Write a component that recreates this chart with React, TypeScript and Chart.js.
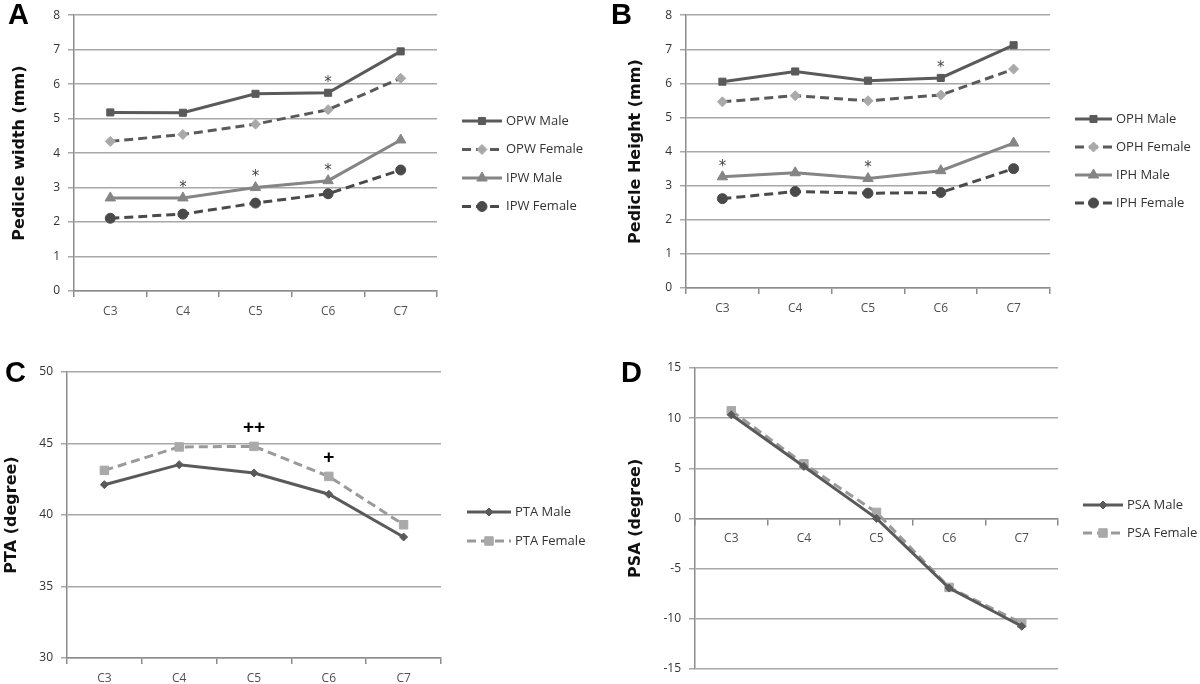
import React, { useEffect, useRef } from "react";
import { Chart, registerables } from "chart.js";
import { drawPoint } from "chart.js/helpers";

Chart.register(...registerables);

// ---------- data ----------
const categories = ["C3", "C4", "C5", "C6", "C7"];

// Panel A – pedicle width (mm)
const opwMale = [5.18, 5.17, 5.72, 5.75, 6.95];
const opwFemale = [4.34, 4.54, 4.84, 5.26, 6.17];
const ipwMale = [2.7, 2.7, 3.0, 3.2, 4.38];
const ipwFemale = [2.11, 2.23, 2.55, 2.82, 3.51];

// Panel B – pedicle height (mm)
const ophMale = [6.05, 6.35, 6.08, 6.16, 7.12];
const ophFemale = [5.46, 5.64, 5.49, 5.66, 6.42];
const iphMale = [3.26, 3.38, 3.21, 3.44, 4.25];
const iphFemale = [2.62, 2.83, 2.78, 2.8, 3.5];

// Panel C – PTA (degree)
const ptaMale = [42.12, 43.52, 42.94, 41.45, 38.46];
const ptaFemale = [43.12, 44.76, 44.8, 42.7, 39.32];

// Panel D – PSA (degree)
const psaMale = [10.33, 5.18, 0.0, -6.94, -10.76];
const psaFemale = [10.73, 5.45, 0.6, -6.88, -10.43];

// significance marks: [series index, category index, text]
const marksA: [number, number, string][] = [
  [0, 3, "*"],
  [2, 1, "*"],
  [2, 2, "*"],
  [2, 3, "*"],
];
const marksB: [number, number, string][] = [
  [0, 3, "*"],
  [2, 0, "*"],
  [2, 2, "*"],
];
const marksC: [number, number, string][] = [
  [1, 2, "++"],
  [1, 3, "+"],
];

// ---------- styles ----------
const GRID = "#a8a8a8";
const AXIS = "#8c8c8c";
const DARK = "#5a5a5a";
const DARKER = "#4a4a4a";
const MID = "#858585";
const LIGHT = "#a9a9a9";
const TICK_FONT = { family: "'Open Sans', 'DejaVu Sans', sans-serif", size: 12 };

function ds(label: string, data: number[], line: string, point: string, style: string, radius: number, dashed: boolean) {
  return {
    label,
    data,
    borderColor: line,
    backgroundColor: point,
    borderWidth: 3,
    borderDash: dashed ? [9, 5] : [],
    pointStyle: style,
    pointRadius: radius,
    pointBackgroundColor: point,
    pointBorderColor: point,
    pointBorderWidth: 1,
    tension: 0,
    fill: false,
  };
}

const legendPlugin = {
  id: "panelLegend",
  afterDraw(chart: any, _args: any, opts: any) {
    const ctx = chart.ctx as CanvasRenderingContext2D;
    chart.data.datasets.forEach((d: any, i: number) => {
      const y = opts.y + i * opts.gap;
      ctx.save();
      ctx.strokeStyle = d.borderColor;
      ctx.lineWidth = d.borderWidth;
      ctx.setLineDash(d.borderDash || []);
      ctx.beginPath();
      ctx.moveTo(opts.x, y);
      ctx.lineTo(opts.x + opts.len, y);
      ctx.stroke();
      ctx.setLineDash([]);
      ctx.fillStyle = d.pointBackgroundColor;
      ctx.strokeStyle = d.pointBorderColor;
      ctx.lineWidth = 1;
      drawPoint(ctx, { pointStyle: d.pointStyle, radius: d.pointRadius, rotation: 0, borderWidth: 1 } as any, opts.x + opts.len / 2, y);
      ctx.fillStyle = "#333";
      ctx.font = "13px 'Open Sans', sans-serif";
      ctx.textBaseline = "middle";
      ctx.textAlign = "left";
      ctx.fillText(d.label, opts.x + opts.len + 4, y);
      ctx.restore();
    });
  },
};

const marksPlugin = {
  id: "panelMarks",
  afterDatasetsDraw(chart: any, _args: any, opts: any) {
    const list = opts.marks || [];
    const ctx = chart.ctx as CanvasRenderingContext2D;
    ctx.save();
    ctx.textAlign = "center";
    ctx.textBaseline = "middle";
    list.forEach(([s, idx, text]: [number, number, string]) => {
      const pt = chart.getDatasetMeta(s).data[idx];
      const plus = text.includes("+");
      ctx.font = plus ? "bold 19px 'Liberation Sans', sans-serif" : "15px 'DejaVu Sans', sans-serif";
      ctx.fillStyle = plus ? "#000" : "#444";
      ctx.fillText(text, pt.x, pt.y - (plus ? opts.plusGap : opts.starGap));
    });
    ctx.restore();
  },
};

type Spec = {
  w: number;
  h: number;
  area: { left: number; top: number; right: number; bottom: number };
  datasets: any[];
  min: number;
  max: number;
  step: number;
  title: string;
  titlePad: number;
  xAtZero?: boolean;
  legend: { x: number; y: number; gap: number; len: number };
  marks: [number, number, string][];
};

function buildChart(canvas: HTMLCanvasElement, p: Spec) {
  const xH = 30;
  return new Chart(canvas, {
    type: "line",
    data: { labels: categories, datasets: p.datasets },
    options: {
      responsive: false,
      animation: false,
      devicePixelRatio: 1,
      layout: {
        padding: {
          left: 0,
          top: p.area.top,
          right: p.w - p.area.right,
          bottom: p.xAtZero ? p.h - p.area.bottom : p.h - p.area.bottom - xH,
        },
      },
      plugins: {
        legend: { display: false },
        tooltip: { enabled: false },
        panelLegend: p.legend,
        panelMarks: { marks: p.marks, starGap: 10, plusGap: 19 },
      } as any,
      scales: {
        x: {
          type: "category",
          offset: true,
          position: p.xAtZero ? ({ y: 0 } as any) : "bottom",
          grid: { offset: true, drawOnChartArea: false, drawTicks: true, tickLength: 6, color: AXIS, lineWidth: 1.5 },
          border: { color: AXIS, width: 1.5 },
          ticks: { color: "#505050", font: TICK_FONT, padding: 7, maxRotation: 0, autoSkip: false },
          afterFit: p.xAtZero
            ? undefined
            : (s: any) => {
                s.height = xH;
              },
        },
        y: {
          type: "linear",
          min: p.min,
          max: p.max,
          ticks: { stepSize: p.step, color: "#333", font: TICK_FONT, padding: 8 },
          grid: { color: GRID, lineWidth: 1.5, tickLength: 6, drawTicks: true },
          border: { color: AXIS, width: 1.5 },
          title: {
            display: true,
            text: p.title,
            color: "#111",
            font: { family: "'DejaVu Sans', sans-serif", size: 16, weight: "bold" },
            padding: { top: p.titlePad, bottom: 0 },
          },
          afterFit: (s: any) => {
            s.width = p.area.left;
          },
        },
      } as any,
    },
    plugins: [legendPlugin, marksPlugin],
  } as any);
}

const specs: (Spec & { x: number; y: number; letter: string; lx: number; ly: number })[] = [
  {
    x: 0, y: 0, w: 600, h: 330, letter: "A", lx: 8, ly: 0,
    area: { left: 74, top: 14, right: 437, bottom: 291 },
    datasets: [
      ds("OPW Male", opwMale, DARK, DARK, "rect", 5, false),
      ds("OPW Female", opwFemale, DARK, LIGHT, "rectRot", 5, true),
      ds("IPW Male", ipwMale, MID, MID, "triangle", 6, false),
      ds("IPW Female", ipwFemale, DARKER, DARKER, "circle", 5, true),
    ],
    min: 0, max: 8, step: 1, title: "Pedicle width (mm)", titlePad: 10,
    legend: { x: 462, y: 121, gap: 28.5, len: 40 },
    marks: marksA,
  },
  {
    x: 600, y: 0, w: 600, h: 330, letter: "B", lx: 611, ly: 0,
    area: { left: 86, top: 14, right: 450, bottom: 288 },
    datasets: [
      ds("OPH Male", ophMale, DARK, DARK, "rect", 5, false),
      ds("OPH Female", ophFemale, DARK, LIGHT, "rectRot", 5, true),
      ds("IPH Male", iphMale, MID, MID, "triangle", 6, false),
      ds("IPH Female", iphFemale, DARKER, DARKER, "circle", 5, true),
    ],
    min: 0, max: 8, step: 1, title: "Pedicle Height (mm)", titlePad: 26,
    legend: { x: 475, y: 119, gap: 28, len: 37 },
    marks: marksB,
  },
  {
    x: 0, y: 330, w: 600, h: 354, letter: "C", lx: 5, ly: 358,
    area: { left: 67, top: 42, right: 441, bottom: 328 },
    datasets: [
      ds("PTA Male", ptaMale, DARK, DARK, "rectRot", 4, false),
      ds("PTA Female", ptaFemale, "#9a9a9a", LIGHT, "rect", 6, true),
    ],
    min: 30, max: 50, step: 5, title: "PTA (degree)", titlePad: 2,
    legend: { x: 467, y: 182, gap: 29, len: 44 },
    marks: marksC,
  },
  {
    x: 600, y: 330, w: 600, h: 354, letter: "D", lx: 621, ly: 358,
    area: { left: 95, top: 38, right: 458, bottom: 339 },
    datasets: [
      ds("PSA Male", psaMale, DARK, DARK, "rectRot", 4, false),
      ds("PSA Female", psaFemale, "#9a9a9a", LIGHT, "rect", 6, true),
    ],
    min: -15, max: 15, step: 5, title: "PSA (degree)", titlePad: 26, xAtZero: true,
    legend: { x: 483, y: 175, gap: 28, len: 40 },
    marks: [],
  },
];

function Panel({ spec }: { spec: (typeof specs)[number] }) {
  const ref = useRef<HTMLCanvasElement | null>(null);
  useEffect(() => {
    if (!ref.current) return;
    const chart = buildChart(ref.current, spec);
    return () => chart.destroy();
  }, [spec]);
  return (
    <canvas
      ref={ref}
      width={spec.w}
      height={spec.h}
      style={{ position: "absolute", left: spec.x, top: spec.y, width: spec.w, height: spec.h }}
    />
  );
}

export default function App() {
  return (
    <div
      style={{
        position: "absolute",
        left: 0,
        top: 0,
        width: 1200,
        height: 684,
        background: "#fff",
        overflow: "hidden",
      }}
    >
      {specs.map((s) => (
        <Panel key={s.letter} spec={s} />
      ))}
      {specs.map((s) => (
        <div
          key={"L" + s.letter}
          style={{
            position: "absolute",
            left: s.lx,
            top: s.ly,
            font: "bold 29px 'Liberation Sans', Arial, sans-serif",
            lineHeight: "29px",
            color: "#000",
          }}
        >
          {s.letter}
        </div>
      ))}
    </div>
  );
}
